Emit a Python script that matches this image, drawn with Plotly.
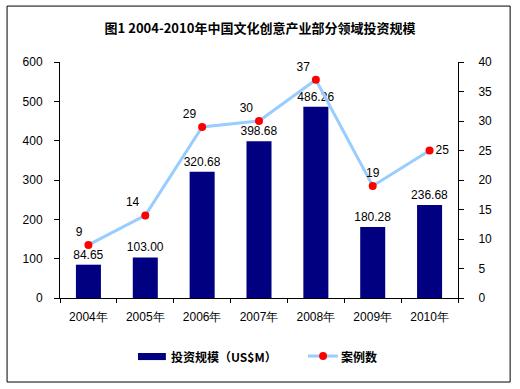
import plotly.graph_objects as go

years = ["2004年", "2005年", "2006年", "2007年", "2008年", "2009年", "2010年"]
investment = [84.65, 103.00, 320.68, 398.68, 486.26, 180.28, 236.68]
cases = [9, 14, 29, 30, 37, 19, 25]
case_label_pos = ["top left", "top left", "top left", "top left", "top left", "top center", "middle right"]

title = "图1 2004-2010年中国文化创意产业部分领域投资规模"
bar_name = "投资规模（US$M）"
line_name = "案例数"

BAR_COLOR = "#000080"
LINE_COLOR = "#99CCFF"
MARK_COLOR = "#FF0000"

fig = go.Figure()
fig.add_trace(go.Bar(
    x=years, y=investment, name=bar_name,
    marker=dict(color=BAR_COLOR, line=dict(width=0)),
    width=0.44,
    text=[f"{v:.2f}" for v in investment], textposition="outside",
    constraintext="none",
    textfont=dict(family="Liberation Sans, Arial", size=12, color="black"),
    cliponaxis=False,
))
fig.add_trace(go.Scatter(
    x=years, y=cases, name=line_name, yaxis="y2",
    mode="lines+markers+text",
    line=dict(color=LINE_COLOR, width=3),
    marker=dict(color=MARK_COLOR, size=8, symbol="circle"),
    text=[str(v) for v in cases], textposition=case_label_pos,
    textfont=dict(family="Liberation Sans, Arial", size=12, color="black"),
    cliponaxis=False,
))

axis_font = dict(family="Liberation Sans, Arial", size=12, color="black")
legend_font = dict(family="Noto Sans CJK SC", size=12, color="black")

fig.update_layout(
    width=520, height=389,
    margin=dict(l=60, r=62, t=62, b=91),
    paper_bgcolor="white", plot_bgcolor="white",
    title=dict(text="<b>" + title + "</b>", x=0.5, xanchor="center", y=0.928, yanchor="middle",
               font=dict(family="Noto Sans CJK SC", size=13, color="black")),
    xaxis=dict(type="category", showline=True, linecolor="black", linewidth=1,
               ticks="outside", tickson="boundaries", ticklen=4, tickcolor="black",
               tickfont=axis_font, showgrid=False, ticklabelstandoff=8),
    yaxis=dict(range=[0, 600], dtick=100, showline=True, linecolor="black", linewidth=1,
               ticks="outside", ticklen=5, tickcolor="black", tickfont=axis_font,
               showgrid=False, zeroline=False, ticklabelstandoff=9),
    yaxis2=dict(range=[0, 40], dtick=5, overlaying="y", side="right", showline=True,
                linecolor="black", linewidth=1, ticks="outside", ticklen=5, tickcolor="black",
                tickfont=axis_font, showgrid=False, zeroline=False, ticklabelstandoff=12),
    showlegend=False,
    shapes=[
        dict(type="rect", xref="paper", yref="paper",
             x0=-0.133, x1=1.131, y0=-0.356, y1=1.237,
             line=dict(color="black", width=1), layer="below"),
        # legend swatches
        dict(type="rect", xref="paper", yref="paper",
             x0=0.196, x1=0.266, y0=-0.263, y1=-0.233,
             fillcolor=BAR_COLOR, line=dict(width=0)),
        dict(type="line", xref="paper", yref="paper",
             x0=0.623, x1=0.698, y0=-0.246, y1=-0.246,
             line=dict(color=LINE_COLOR, width=3)),
        dict(type="circle", xref="paper", yref="paper",
             x0=0.651, x1=0.671, y0=-0.263, y1=-0.229,
             fillcolor=MARK_COLOR, line=dict(width=0)),
    ],
    annotations=[
        dict(text="<b>" + bar_name + "</b>", xref="paper", yref="paper",
             x=0.274, y=-0.246, xanchor="left", yanchor="middle", showarrow=False,
             font=legend_font),
        dict(text="<b>" + line_name + "</b>", xref="paper", yref="paper",
             x=0.702, y=-0.246, xanchor="left", yanchor="middle", showarrow=False,
             font=legend_font),
    ],
)
fig.write_html("out.html", config={"displayModeBar": False},
               post_script="document.body.style.margin='0';")
